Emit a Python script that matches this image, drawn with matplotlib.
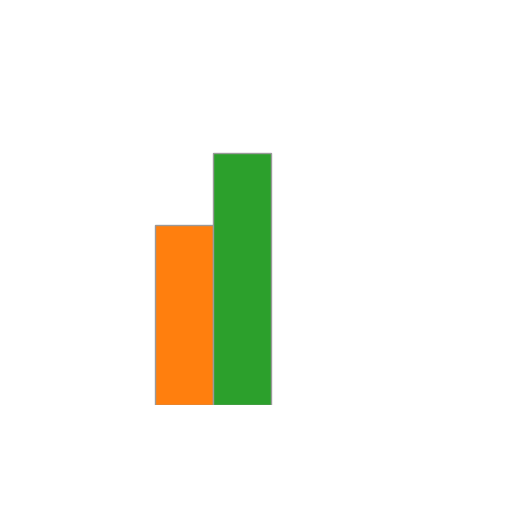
import matplotlib
matplotlib.use("Agg")
import matplotlib.pyplot as plt
import numpy as np

series = ["A", "B"]
values = [5, 7]
colors = ["#ff7f0e", "#2ca02c"]

fig = plt.figure(figsize=(5.12, 5.12), dpi=100)
ax = fig.add_axes([0, 107/512, 1, 360/512])
width = 0.4
x = 0
for i, (v, c) in enumerate(zip(values, colors)):
    ax.bar(x + (i - 0.5) * width, v, width, color=c, edgecolor="#999999", linewidth=1)
ax.set_xlim(-213/145, (512-213)/145)
ax.set_ylim(0, 10)
ax.axis("off")
fig.savefig("out.png", dpi=100)
